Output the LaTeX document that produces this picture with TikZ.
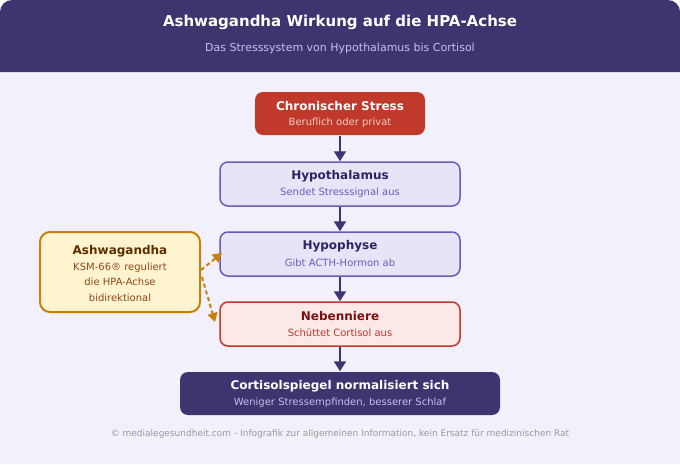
\documentclass[tikz,border=0pt]{standalone}
\usepackage{fontspec}
\setmainfont{DejaVu Sans}
\usetikzlibrary{arrows.meta}
\definecolor{hdr}{HTML}{3D3470}
\definecolor{bgc}{HTML}{F2F0FA}
\definecolor{hsub}{HTML}{C8C0E8}
\definecolor{stressfill}{HTML}{C0392B}
\definecolor{stresssub}{HTML}{F5CCC6}
\definecolor{purfill}{HTML}{E8E4F8}
\definecolor{purline}{HTML}{6B5BB5}
\definecolor{purtitle}{HTML}{2D2460}
\definecolor{redfill}{HTML}{FDE8E8}
\definecolor{redtitle}{HTML}{7B1010}
\definecolor{ashfill}{HTML}{FFF3D0}
\definecolor{ashline}{HTML}{C8800A}
\definecolor{ashtitle}{HTML}{5A3000}
\definecolor{ashtext}{HTML}{8B4A1A}
\definecolor{foot}{HTML}{999999}
\tikzset{
  box/.style={rounded corners=8pt, minimum height=44pt, inner sep=0pt, line width=1.5pt},
  ttl/.style={font=\bfseries\fontsize{12}{14}\selectfont},
  sub/.style={font=\fontsize{10}{12}\selectfont},
  flow/.style={draw=hdr, line width=2pt, -{Triangle[length=10pt,width=12pt]}},
  ashflow/.style={draw=ashline, line width=2pt, dash pattern=on 4pt off 3pt, -{Triangle[length=9pt,width=10pt]}},
}
\begin{document}
\begin{tikzpicture}[x=1pt,y=-1pt]
\useasboundingbox (0,0) rectangle (680,464);
\fill[white] (0,0) rectangle (680,464);
\fill[bgc] (0,464) [rounded corners=12pt] -- (0,0) -- (680,0) [sharp corners] -- (680,464) -- cycle;
\fill[hdr] (0,72) [rounded corners=12pt] -- (0,0) -- (680,0) [sharp corners] -- (680,72) -- cycle;
\node[text=white, font=\bfseries\fontsize{15}{18}\selectfont] (title) at (340,22.5) {Ashwagandha Wirkung auf die HPA-Achse};
\node[text=hsub, font=\fontsize{11}{13}\selectfont] (subtitle) at (340,48.5) {Das Stresssystem von Hypothalamus bis Cortisol};

% boxes
\node[box, fill=stressfill, minimum width=170pt, minimum height=43pt] (stress) at (340,113.5) {};
\node[ttl, text=white] (stressT) at (340,106.5) {Chronischer Stress};
\node[sub, text=stresssub] (stressS) at (340,122.5) {Beruflich oder privat};

\node[box, fill=purfill, draw=purline, minimum width=240pt] (hypo) at (340,184) {};
\node[ttl, text=purtitle] (hypoT) at (340,176.5) {Hypothalamus};
\node[sub, text=purline] (hypoS) at (340,192.5) {Sendet Stresssignal aus};

\node[box, fill=purfill, draw=purline, minimum width=240pt] (hyph) at (340,254) {};
\node[ttl, text=purtitle] (hyphT) at (340,246.5) {Hypophyse};
\node[sub, text=purline] (hyphS) at (340,262.5) {Gibt ACTH-Hormon ab};

\node[box, fill=redfill, draw=stressfill, minimum width=240pt] (neb) at (340,324) {};
\node[ttl, text=redtitle] (nebT) at (340,316.5) {Nebenniere};
\node[sub, text=stressfill] (nebS) at (340,332.5) {Schüttet Cortisol aus};

\node[box, fill=hdr, minimum width=320pt, minimum height=43pt] (cort) at (340,393.5) {};
\node[ttl, text=white] (cortT) at (340,386.5) {Cortisolspiegel normalisiert sich};
\node[sub, text=hsub] (cortS) at (340,402.5) {Weniger Stressempfinden, besserer Schlaf};

\node[box, fill=ashfill, draw=ashline, line width=2pt, minimum width=160pt, minimum height=80pt, rounded corners=10pt] (ash) at (120,272) {};
\node[ttl, text=ashtitle] (ashT) at (120,251.5) {Ashwagandha};
\node[sub, text=ashtext] (ashL1) at (120,267.5) {KSM-66® reguliert};
\node[sub, text=ashtext] (ashL2) at (120,281.5) {die HPA-Achse};
\node[sub, text=ashtext] (ashL3) at (120,297.5) {bidirektional};

% arrows
\draw[flow] (stress.south) -- (hypo.north);
\draw[flow] (hypo.south) -- (hyph.north);
\draw[flow] (hyph.south) -- (neb.north);
\draw[flow] (neb.south) -- (cort.north);

\coordinate (a1) at (201,270);
\coordinate (a2) at (202,277);
\coordinate (h1) at (222,253);
\coordinate (h2) at (215,322);
\draw[ashflow] (a1) -- (h1);
\draw[ashflow] (a2) -- (h2);

\node[text=foot, font=\fontsize{9}{11}\selectfont] (footer) at (340,434.5) {© medialegesundheit.com - Infografik zur allgemeinen Information, kein Ersatz für medizinischen Rat};
\end{tikzpicture}
\end{document}
